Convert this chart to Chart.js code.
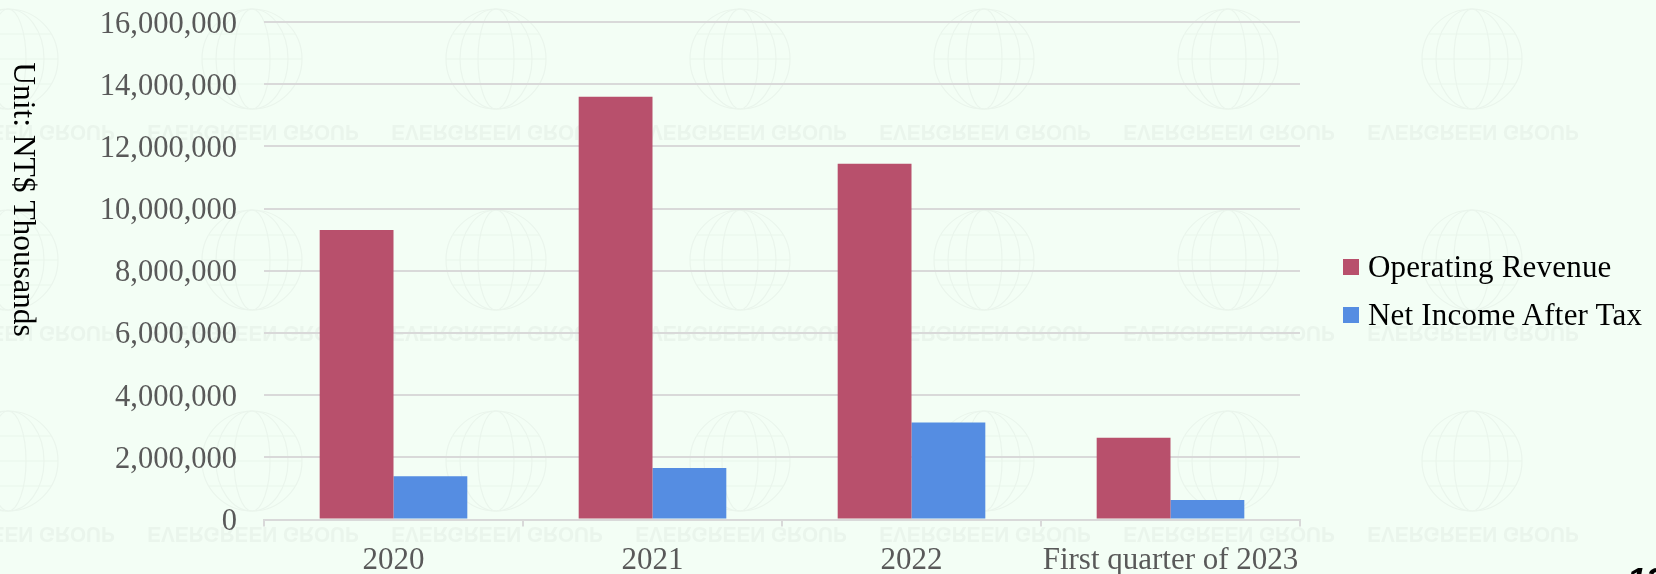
<!DOCTYPE html>
<html>
<head>
<meta charset="utf-8">
<title>Operating Revenue and Net Income After Tax</title>
<script src="https://cdn.jsdelivr.net/npm/chart.js@4"></script>
<style>
    html, body { margin: 0; padding: 0; background: #F3FEF5; overflow: hidden; }
    #wrap { position: relative; width: 1656px; height: 574px; overflow: hidden; }
    #legend { position: absolute; left: 1343px; top: 243px; font: 31px "Liberation Serif", serif; letter-spacing: 0.2px; color: #000; }
    #legend div { position: relative; height: 48px; line-height: 48px; padding-left: 25px; white-space: nowrap; }
    #legend span { position: absolute; left: 0; top: 16px; width: 16px; height: 16px; }
    #page { position: absolute; left: 1627px; top: 560px; font: italic bold 34px "Liberation Sans", sans-serif; color: #000; }
</style>
</head>
<body>
<div id="wrap">
    <canvas id="myChart" width="1656" height="574"></canvas>
    <div id="legend"></div>
    <div id="page">13</div>
</div>
<script>
const categories = ['2020', '2021', '2022', 'First quarter of 2023'];
const operatingRevenue = [9310000, 13600000, 11440000, 2630000];
const netIncome = [1390000, 1660000, 3120000, 630000];
const seriesNames = ['Operating Revenue', 'Net Income After Tax'];
const seriesColors = ['#B8506C', '#558DE2'];
const unitLabel = 'Unit: NT$ Thousands';
const watermarkText = 'EVERGREEN GROUP';

const serif = '"Liberation Serif", serif';

// faint background stamp: globe + upside down company name
const watermark = {
    id: 'watermark',
    beforeDraw(chart) {
        const ctx = chart.ctx;
        ctx.save();
        ctx.filter = 'blur(0.6px)';
        ctx.strokeStyle = '#EAF5EC';
        ctx.fillStyle = '#EAF5EC';
        ctx.lineWidth = 1.2;
        for (let row = 0; row < 3; row++) {
            const cy = 59 + row * 201;
            for (let col = 0; col < 7; col++) {
                const cx = 8 + col * 244;
                ctx.beginPath();
                ctx.arc(cx, cy, 50, 0, Math.PI * 2);
                ctx.stroke();
                [18, 36].forEach((rx) => {
                    ctx.beginPath();
                    ctx.ellipse(cx, cy, rx, 50, 0, 0, Math.PI * 2);
                    ctx.stroke();
                });
                [-25, 0, 25].forEach((dy) => {
                    const half = Math.sqrt(2500 - dy * dy);
                    ctx.beginPath();
                    ctx.moveTo(cx - half, cy + dy);
                    ctx.lineTo(cx + half, cy + dy);
                    ctx.stroke();
                });
            }
            ctx.font = 'bold 22px "Liberation Sans", sans-serif';
            ctx.textAlign = 'center';
            ctx.textBaseline = 'middle';
            for (let col = -1; col < 7; col++) {
                ctx.save();
                ctx.translate(8 + col * 244 + 1, cy + 72);
                ctx.scale(0.94, -1);
                ctx.fillText(watermarkText, 0, 0);
                ctx.restore();
            }
        }
        ctx.restore();
    }
};

// y labels sit a little under their gridlines in the original
const nudgeLabels = {
    id: 'nudgeLabels',
    beforeDraw(chart) {
        chart.scales.y.getLabelItems().forEach((item) => {
            item.options.translation[1] += 2.5;
        });
    }
};

// axis title reads top to bottom, chart.js title option only rotates the other way on the left
const unitTitle = {
    id: 'unitTitle',
    afterDraw(chart) {
        const ctx = chart.ctx;
        ctx.save();
        ctx.translate(13.5, 199.5);
        ctx.rotate(Math.PI / 2);
        ctx.font = '31.5px ' + serif;
        ctx.fillStyle = '#000';
        ctx.textAlign = 'center';
        ctx.textBaseline = 'alphabetic';
        ctx.fillText(unitLabel, 0, 0);
        ctx.restore();
    }
};

const data = {
    labels: categories,
    datasets: [{
        label: seriesNames[0],
        backgroundColor: seriesColors[0],
        data: operatingRevenue,
    },
    {
        label: seriesNames[1],
        backgroundColor: seriesColors[1],
        data: netIncome,
    }]
};

const config = {
    type: 'bar',
    data,
    options: {
        responsive: false,
        animation: false,
        events: [],
        layout: { padding: { top: 0, right: 356, bottom: 0, left: 0 } },
        datasets: { bar: { categoryPercentage: 0.57, barPercentage: 1 } },
        scales: {
            x: {
                afterFit(scale) { scale.height = 54.5; },
                grid: { offset: true, drawOnChartArea: false, drawTicks: true, tickLength: 7, color: '#D9D9D9', lineWidth: 2 },
                border: { color: '#D9D9D9', width: 2 },
                ticks: { color: '#595959', padding: 16, maxRotation: 0, autoSkip: false, font: { family: serif, size: 31 } },
            },
            y: {
                min: 0,
                max: 16000000,
                // tick padding also gets added above the plot, so fix the space here
                afterFit(scale) {
                    scale.width = 264;
                    scale.paddingTop = 22;
                    scale.paddingBottom = 0;
                },
                grid: { drawTicks: false, color: '#D9D9D9', lineWidth: 2 },
                border: { display: false },
                ticks: {
                    stepSize: 2000000,
                    padding: 27,
                    color: '#595959',
                    font: { family: serif, size: 30.5 },
                    callback: (value) => value.toLocaleString('en-US'),
                },
            },
        },
        plugins: {
            legend: { display: false },
            title: { display: false },
            tooltip: { enabled: false },
        },
    },
    plugins: [watermark, nudgeLabels, unitTitle],
};

const myChart = new Chart(document.getElementById('myChart'), config);

// legend on the side, built from the datasets so marker and text sit where they should
document.getElementById('legend').innerHTML = data.datasets.map((ds) =>
    '<div><span style="background:' + ds.backgroundColor + '"></span>' + ds.label + '</div>'
).join('');
</script>
</body>
</html>
